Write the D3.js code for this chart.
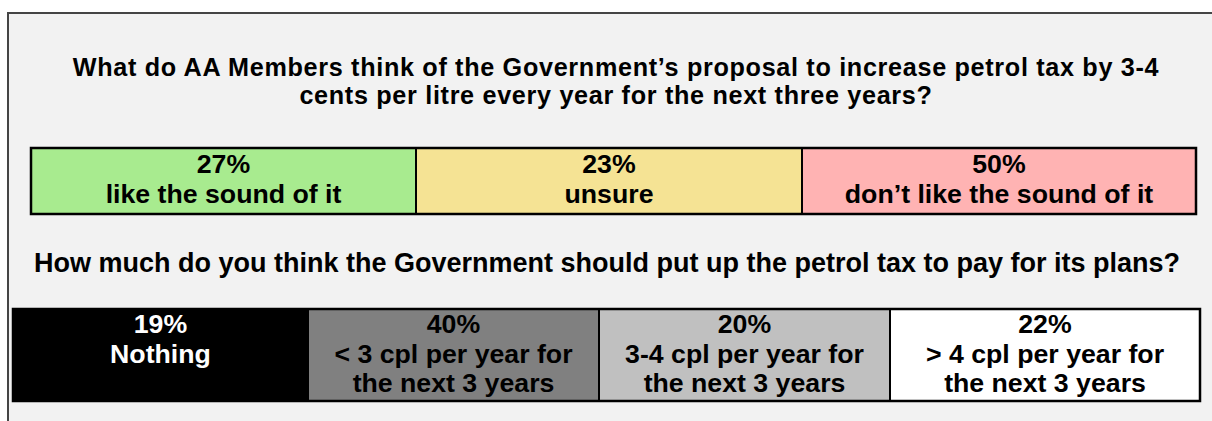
<!DOCTYPE html>
<html>
<head>
<meta charset="utf-8">
<script src="https://cdn.jsdelivr.net/npm/d3@7"></script>
<style>
  body { margin: 0; background: #ffffff; }
  text { font-family: "Liberation Sans", Arial, sans-serif; font-weight: bold; }
</style>
</head>
<body>
<div id="chart"></div>
<script>
// survey results
var titleLines = ["What do AA Members think of the Government’s proposal to increase petrol tax by 3-4",
                  "cents per litre every year for the next three years?"];
var topPcts = [27, 23, 50];
var topLabels = [["like the sound of it"], ["unsure"], ["don’t like the sound of it"]];
var topColors = ["#a8eb8f", "#f5e394", "#ffb3b3"];

var question2 = "How much do you think the Government should put up the petrol tax to pay for its plans?";
var bottomPcts = [19, 40, 20, 22];
var bottomLabels = [["Nothing"],
                    ["< 3 cpl per year for", "the next 3 years"],
                    ["3-4 cpl per year for", "the next 3 years"],
                    ["> 4 cpl per year for", "the next 3 years"]];
var bottomColors = ["#000000", "#808080", "#c0c0c0", "#ffffff"];
var bottomTextColors = ["#ffffff", "#000000", "#000000", "#000000"];

// table column widths (layout only, cells are not proportional)
var topColW = [385, 386, 394];
var bottomColW = [295, 291, 291, 310];

var width = 1212, height = 421;

var svg = d3.select("#chart").append("svg")
    .attr("width", width)
    .attr("height", height);

// outer panel
svg.append("rect")
    .attr("x", 8)
    .attr("y", 13)
    .attr("width", width + 10)
    .attr("height", height + 10)
    .attr("fill", "#f2f2f2")
    .attr("stroke", "#454545")
    .attr("stroke-width", 2);

svg.selectAll(".title")
    .data(titleLines)
    .enter().append("text")
    .attr("class", "title")
    .attr("x", 616)
    .attr("y", function(d, i){ return 76 + i * 28; })
    .attr("text-anchor", "middle")
    .attr("font-size", 25.2)
    .attr("letter-spacing", 0.68)
    .attr("fill", "#000")
    .text(function(d){ return d; });

function drawTable(g, pcts, labels, colW, colors, textColors, x0, x1, y0, y1, firstBase, lineH){
    var edges = [0].concat(Array.from(d3.cumsum(colW)));
    var x = d3.scaleLinear()
        .domain([0, d3.sum(colW)])
        .range([x0, x1]);

    var cells = g.selectAll("g.cell")
        .data(pcts)
        .enter().append("g")
        .attr("class", "cell");

    cells.append("rect")
        .attr("x", function(d, i){ return x(edges[i]); })
        .attr("y", y0)
        .attr("width", function(d, i){ return x(edges[i + 1]) - x(edges[i]); })
        .attr("height", y1 - y0)
        .attr("fill", function(d, i){ return colors[i]; })
        .attr("stroke", "#000")
        .attr("stroke-width", 2);

    cells.each(function(d, i){
        var lines = [d + "%"].concat(labels[i]);
        var cx = (x(edges[i]) + x(edges[i + 1])) / 2;
        d3.select(this).selectAll("text")
            .data(lines)
            .enter().append("text")
            .attr("x", cx)
            .attr("y", function(t, j){ return firstBase + j * lineH; })
            .attr("text-anchor", "middle")
            .attr("font-size", 26.7)
            .attr("fill", textColors ? textColors[i] : "#000")
            .text(function(t){ return t; });
    });

    // outer frame on top
    g.append("rect")
        .attr("x", x0)
        .attr("y", y0)
        .attr("width", x1 - x0)
        .attr("height", y1 - y0)
        .attr("fill", "none")
        .attr("stroke", "#000")
        .attr("stroke-width", 2.5);
}

drawTable(svg.append("g"), topPcts, topLabels, topColW, topColors, null,
    31, 1196, 148, 214, 173, 30);

svg.append("text")
    .attr("x", 607)
    .attr("y", 272)
    .attr("text-anchor", "middle")
    .attr("font-size", 27)
    .attr("fill", "#000")
    .text(question2);

drawTable(svg.append("g"), bottomPcts, bottomLabels, bottomColW, bottomColors, bottomTextColors,
    13, 1200, 309, 401, 333, 29.5);
</script>
</body>
</html>
